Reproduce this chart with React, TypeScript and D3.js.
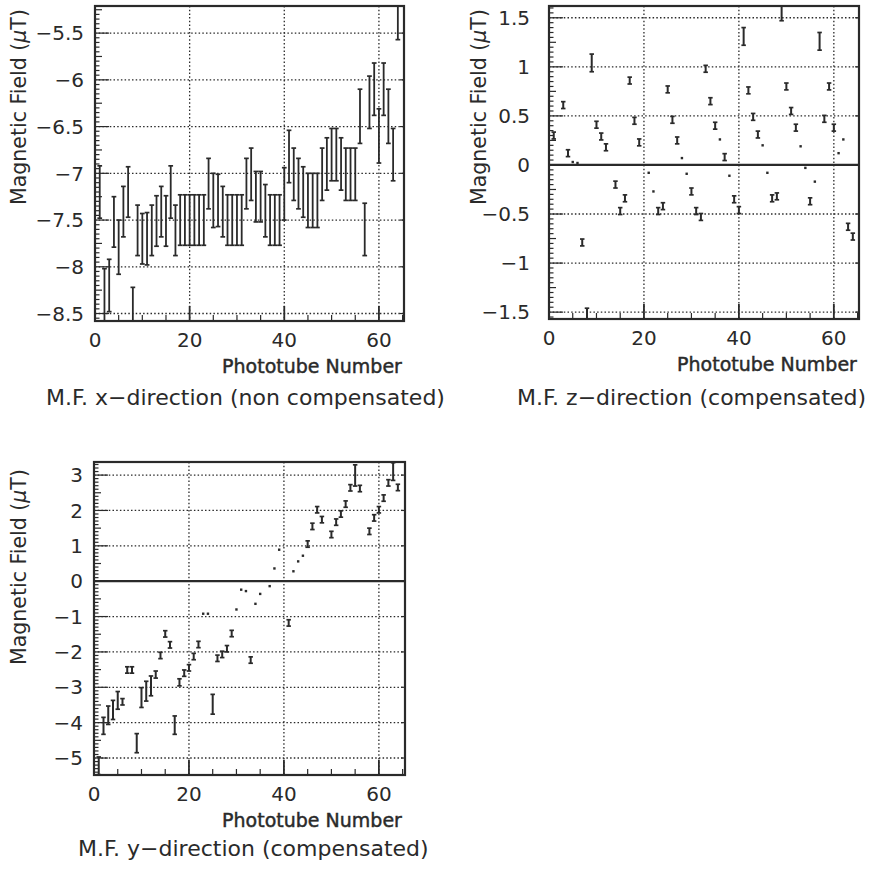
import React from "react";
import * as d3 from "d3";

// phototube axis
const tubeTicks = [0, 20, 40, 60];

// M.F. x-direction (non compensated), one bar per phototube
const xTubes = d3.range(1, 65);
const xField = [
  -7.20, -8.30, -8.20, -7.52, -7.79, -7.41, -7.20, -8.50, -7.61, -7.70,
  -7.70, -7.61, -7.51, -7.41, -7.51, -7.20, -7.61, -7.50, -7.50, -7.50,
  -7.50, -7.50, -7.50, -7.11, -7.29, -7.29, -7.41, -7.50, -7.50, -7.50,
  -7.50, -7.11, -7.01, -7.25, -7.25, -7.40, -7.50, -7.50, -7.50, -7.22,
  -6.82, -7.01, -7.11, -7.20, -7.29, -7.29, -7.29, -7.01, -6.90, -6.80,
  -6.80, -6.90, -7.01, -7.01, -7.01, -6.39, -7.60, -6.24, -6.10, -6.60,
  -6.10, -6.39, -6.80, -5.29,
];
const xFieldErr = [
  0.28, 0.28, 0.28, 0.27, 0.29, 0.27, 0.27, 0.28, 0.27, 0.27,
  0.28, 0.27, 0.27, 0.27, 0.27, 0.28, 0.27, 0.27, 0.27, 0.27,
  0.27, 0.27, 0.27, 0.27, 0.29, 0.28, 0.27, 0.27, 0.27, 0.27,
  0.27, 0.27, 0.28, 0.27, 0.27, 0.28, 0.27, 0.27, 0.27, 0.28,
  0.28, 0.28, 0.27, 0.27, 0.29, 0.29, 0.29, 0.28, 0.28, 0.28,
  0.28, 0.28, 0.28, 0.28, 0.28, 0.29, 0.28, 0.28, 0.28, 0.29,
  0.28, 0.29, 0.28, 0.28,
];
const xAxisTicks = [-8.5, -8, -7.5, -7, -6.5, -6, -5.5];

// M.F. z-direction (compensated); error 0 = plain dot
const zTubes = [
  1, 3, 4, 5, 6, 7, 8, 9, 10, 11, 12, 14, 15, 16, 17, 18, 19, 21, 22, 23,
  24, 25, 26, 27, 28, 29, 30, 31, 32, 33, 34, 35, 36, 37, 38, 39, 40, 41, 42, 43,
  44, 45, 46, 47, 48, 49, 50, 51, 52, 53, 54, 55, 56, 57, 58, 59, 60, 61, 62, 63, 64,
];
const zField = [
  0.30, 0.61, 0.12, 0.03, 0.02, -0.79, -1.55, 1.04, 0.41, 0.29, 0.18, -0.20, -0.47, -0.34, 0.86, 0.45, 0.23, -0.08, -0.27, -0.47,
  -0.42, 0.77, 0.46, 0.25, 0.07, -0.09, -0.27, -0.47, -0.53, 0.98, 0.65, 0.40, 0.26, 0.08, -0.11, -0.35, -0.46, 1.31, 0.76, 0.49,
  0.31, 0.20, -0.08, -0.34, -0.32, 1.56, 0.80, 0.55, 0.38, 0.19, -0.03, -0.37, -0.17, 1.26, 0.47, 0.80, 0.38, 0.12, 0.26, -0.63, -0.73,
];
const zFieldErr = [
  0.035, 0.035, 0.035, 0, 0, 0.035, 0.09, 0.09, 0.035, 0.035, 0.035, 0.035, 0.035, 0.035, 0.035, 0.035, 0.035, 0, 0, 0.035,
  0.035, 0.035, 0.035, 0.035, 0, 0, 0.035, 0.035, 0.035, 0.035, 0.035, 0.035, 0, 0.035, 0, 0.035, 0.035, 0.09, 0.035, 0.035,
  0.035, 0, 0, 0.035, 0.035, 0.09, 0.035, 0.035, 0.035, 0, 0, 0.035, 0, 0.09, 0.035, 0.035, 0.035, 0, 0, 0.035, 0.035,
];
const zAxisTicks = [-1.5, -1, -0.5, 0, 0.5, 1, 1.5];

// M.F. y-direction (compensated)
const yTubes = [
  1, 2, 3, 4, 5, 6, 7, 8, 9, 10, 11, 12, 13, 14, 15, 16, 17, 18, 19, 20,
  21, 22, 23, 24, 25, 26, 27, 28, 29, 30, 31, 32, 33, 34, 35, 37, 38, 39, 41, 42,
  43, 44, 45, 46, 47, 48, 50, 51, 52, 53, 54, 55, 56, 58, 59, 60, 61, 62, 63, 64,
];
const yField = [
  -5.22, -4.09, -3.79, -3.64, -3.37, -3.41, -2.51, -2.51, -4.58, -3.29, -3.11, -2.96, -2.64, -2.10, -1.49, -1.80, -4.07, -2.86, -2.60, -2.45,
  -2.13, -1.79, -0.92, -0.92, -3.48, -2.18, -2.07, -1.91, -1.48, -0.80, -0.24, -0.28, -2.23, -0.64, -0.36, -0.14, 0.36, 0.89, -1.18, 0.28,
  0.56, 0.72, 1.05, 1.55, 2.02, 1.74, 1.32, 1.67, 1.90, 2.18, 2.64, 2.99, 2.62, 1.41, 1.79, 2.02, 2.35, 2.78, 3.10, 2.65,
];
const yFieldErr = [
  0.25, 0.24, 0.26, 0.27, 0.25, 0.09, 0.09, 0.09, 0.27, 0.28, 0.28, 0.28, 0.10, 0.09, 0.09, 0.09, 0.26, 0.10, 0.09, 0.09,
  0.09, 0.09, 0, 0, 0.28, 0.09, 0.09, 0.09, 0.09, 0, 0, 0, 0.09, 0, 0, 0, 0, 0, 0.09, 0,
  0, 0, 0.09, 0.09, 0.09, 0.09, 0.09, 0.09, 0.09, 0.09, 0.09, 0.30, 0.09, 0.09, 0.09, 0.09, 0.09, 0.09, 0.25, 0.09,
];
const yAxisTicks = [-5, -4, -3, -2, -1, 0, 1, 2, 3];

const ink = "#2a2a2a";
const fmt = d3.format("~g");

type PanelProps = {
  id: string;
  left: number;
  top: number;
  width: number;
  height: number;
  xMax: number;
  yDomain: [number, number];
  yTicks: number[];
  yMinor: number;
  tubes: number[];
  field: number[];
  err: number[];
  binCaps: boolean;
  barStroke: number;
  zeroLine: boolean;
  tickGap: number;
  yLabelX: number;
  yLabelY: number;
  xLabelX: number;
  title: string;
  titleX: number;
  titleY: number;
};

function Panel(p: PanelProps) {
  const x = d3.scaleLinear().domain([0, p.xMax]).range([p.left, p.left + p.width]);
  const y = d3.scaleLinear().domain(p.yDomain).range([p.top + p.height, p.top]);
  const bottom = p.top + p.height;
  const right = p.left + p.width;

  const k0 = Math.ceil(p.yDomain[0] / p.yMinor - 1e-6);
  const k1 = Math.floor(p.yDomain[1] / p.yMinor + 1e-6);
  const minor = d3.range(k0, k1 + 1).map((k) => ({ v: k * p.yMinor, k }));
  const isMajor = (v: number) => p.yTicks.some((t) => Math.abs(t - v) < 1e-6);
  const xMinor = d3.range(5, p.xMax, 5).filter((v) => v % 20 !== 0);

  const capW = p.binCaps ? x(1) - x(0) : 4.5;

  return (
    <g>
      <defs>
        <clipPath id={`clip-${p.id}`}>
          <rect x={p.left} y={p.top} width={p.width} height={p.height} />
        </clipPath>
      </defs>

      {/* dotted grid */}
      <g stroke={ink} strokeWidth={1.3} strokeDasharray="1.5 2.2">
        {p.yTicks
          .filter((t) => !(p.zeroLine && t === 0))
          .map((t) => (
            <line key={`gy${t}`} x1={p.left} x2={right} y1={y(t)} y2={y(t)} />
          ))}
        {tubeTicks
          .filter((t) => t > 0)
          .map((t) => (
            <line key={`gx${t}`} x1={x(t)} x2={x(t)} y1={p.top} y2={bottom} />
          ))}
      </g>
      {p.zeroLine && (
        <line x1={p.left} x2={right} y1={y(0)} y2={y(0)} stroke={ink} strokeWidth={2.2} />
      )}

      {/* axis ticks */}
      <g stroke={ink} strokeWidth={1.2}>
        {minor.map(({ v, k }) => {
          const len = isMajor(v) ? 14 : k % 5 === 0 ? 7 : 4.5;
          return <line key={`ty${k}`} x1={p.left} x2={p.left + len} y1={y(v)} y2={y(v)} />;
        })}
        {p.yTicks.map((t) => (
          <line key={`tr${t}`} x1={right - 4} x2={right} y1={y(t)} y2={y(t)} />
        ))}
        {tubeTicks.map((t) => (
          <line key={`tx${t}`} x1={x(t)} x2={x(t)} y1={bottom} y2={bottom - 15} strokeWidth={1.8} />
        ))}
        {xMinor.map((t) => (
          <line key={`tm${t}`} x1={x(t)} x2={x(t)} y1={bottom} y2={bottom - 6} />
        ))}
      </g>

      {/* measurements */}
      <g clipPath={`url(#clip-${p.id})`} stroke={ink} fill={ink}>
        {p.tubes.map((t, i) => {
          const v = p.field[i];
          const e = p.err[i];
          const cx = x(t);
          if (e === 0) {
            return <rect key={i} x={cx - 1.2} y={y(v) - 1.2} width={2.4} height={2.4} stroke="none" />;
          }
          const y1 = y(v + e);
          const y2 = y(v - e);
          return (
            <g key={i}>
              <line x1={cx} x2={cx} y1={y1} y2={y2} strokeWidth={p.barStroke} />
              <line x1={cx - capW / 2} x2={cx + capW / 2} y1={y1} y2={y1} strokeWidth={1.7} />
              <line x1={cx - capW / 2} x2={cx + capW / 2} y1={y2} y2={y2} strokeWidth={1.7} />
            </g>
          );
        })}
      </g>

      <rect x={p.left} y={p.top} width={p.width} height={p.height} fill="none" stroke={ink} strokeWidth={2.2} />

      {/* labels */}
      <g fill={ink} fontSize={20}>
        {p.yTicks.map((t) => (
          <text key={`ly${t}`} x={p.left - p.tickGap} y={y(t)} dy="0.36em" textAnchor="end">
            {fmt(t)}
          </text>
        ))}
        {tubeTicks.map((t) => (
          <text key={`lx${t}`} x={x(t)} y={bottom + 26} textAnchor="middle">
            {fmt(t)}
          </text>
        ))}
      </g>
      <text
        transform={`translate(${p.yLabelX},${p.yLabelY}) rotate(-90)`}
        textAnchor="middle"
        fontSize={20.5}
        fill={ink}
      >
        Magnetic Field (<tspan fontStyle="italic">μ</tspan>T)
      </text>
      <text
        x={p.xLabelX}
        y={bottom + 52}
        textAnchor="middle"
        fontSize={19}
        fill={ink}
        stroke={ink}
        strokeWidth={0.45}
      >
        Phototube Number
      </text>
      <text x={p.titleX} y={p.titleY} textAnchor="start" fontSize={22} fill={ink}>
        {p.title}
      </text>
    </g>
  );
}

export default function App() {
  return (
    <svg
      width={890}
      height={873}
      style={{ position: "absolute", left: 0, top: 0, background: "#fff" }}
      fontFamily="'DejaVu Sans', sans-serif"
    >
      <Panel
        id="x"
        left={95}
        top={6}
        width={309}
        height={315}
        xMax={65.3}
        yDomain={[-8.58, -5.21]}
        yTicks={xAxisTicks}
        yMinor={0.05}
        tubes={xTubes}
        field={xField}
        err={xFieldErr}
        binCaps={true}
        barStroke={1.8}
        zeroLine={false}
        tickGap={11}
        yLabelX={26}
        yLabelY={107}
        xLabelX={312}
        title="M.F. x−direction (non compensated)"
        titleX={46}
        titleY={405}
      />
      <Panel
        id="z"
        left={549}
        top={6}
        width={310}
        height={313}
        xMax={65.3}
        yDomain={[-1.57, 1.62]}
        yTicks={zAxisTicks}
        yMinor={0.05}
        tubes={zTubes}
        field={zField}
        err={zFieldErr}
        binCaps={false}
        barStroke={2}
        zeroLine={true}
        tickGap={19}
        yLabelX={486}
        yLabelY={107}
        xLabelX={767}
        title="M.F. z−direction (compensated)"
        titleX={517}
        titleY={405}
      />
      <Panel
        id="y"
        left={94}
        top={462}
        width={311}
        height={313}
        xMax={65.5}
        yDomain={[-5.48, 3.37]}
        yTicks={yAxisTicks}
        yMinor={0.1}
        tubes={yTubes}
        field={yField}
        err={yFieldErr}
        binCaps={false}
        barStroke={2}
        zeroLine={true}
        tickGap={11}
        yLabelX={26}
        yLabelY={567}
        xLabelX={312}
        title="M.F. y−direction (compensated)"
        titleX={78}
        titleY={856}
      />
    </svg>
  );
}
